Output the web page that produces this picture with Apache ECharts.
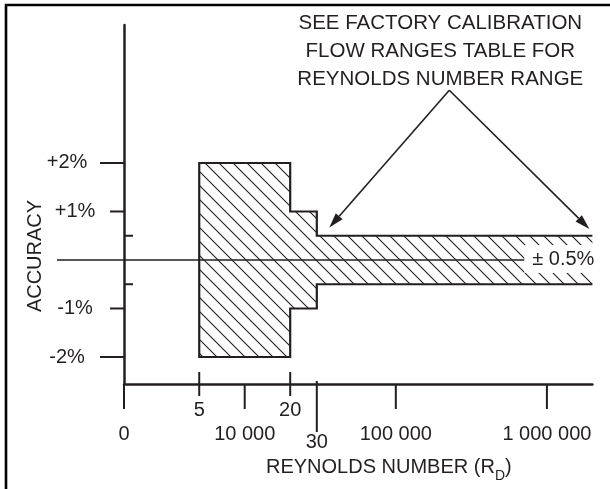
<!DOCTYPE html>
<html><head><meta charset="utf-8">
<script src="https://cdn.jsdelivr.net/npm/echarts/dist/echarts.min.js"></script>
<style>html,body{margin:0;padding:0;background:#fff}#chart{width:610px;height:489px}</style>
</head><body><div id="chart"></div>
<script>
// ---------------- data ----------------
// accuracy envelope: each segment spans [start, end] Reynolds number with ± accuracy (%)
const segmentStartRe = [5000, 20000, 30000];
const segmentEndRe   = [20000, 30000, 2000000];
const segmentAccuracy = [2, 1, 0.5];

// Reynolds-number axis ticks (0 = axis origin)
const xTickRe     = [0, 5000, 10000, 20000, 30000, 100000, 1000000];
const xTickLabels = ['0', '5', '10 000', '20', '30', '100 000', '1 000 000'];
const xTickKind   = ['major', 'minor', 'major', 'minor', 'mid', 'major', 'major'];

// accuracy axis ticks (%)
const yTickValues = [2, 1, 0.5, -0.5, -1, -2];
const yTickLabels = ['+2%', '+1%', '', '', '-1%', '-2%'];
const yTickKind   = ['long', 'mid', 'inner', 'inner', 'mid', 'long'];

const bandLabel = '± 0.5%';
const noteLines = ['SEE FACTORY CALIBRATION', 'FLOW RANGES TABLE FOR', 'REYNOLDS NUMBER RANGE'];

// ---------------- styling / layout ----------------
const INK = '#231f20';
const FONT = '"Liberation Sans", Arial, Helvetica, sans-serif';
const X_MIN = 1589, X_MAX = 2000000;   // log-axis extent; X_MIN is the drawn origin "0"
const Y_MIN = -2.557, Y_MAX = 4.845;

const hatch = (function () {
  const s = 14, c = document.createElement('canvas');
  c.width = s; c.height = s;
  const g = c.getContext('2d');
  g.strokeStyle = INK; g.lineWidth = 1.1;
  g.beginPath();
  g.moveTo(-2, -2); g.lineTo(s + 2, s + 2);
  g.moveTo(-2, s - 2); g.lineTo(2, s + 2);
  g.moveTo(s - 2, -2); g.lineTo(s + 2, 2);
  g.stroke();
  return { image: c, repeat: 'repeat' };
})();

function reToAxis(re) { return re <= 0 ? X_MIN : re; }
function txt(x, y, text, extra) {
  return { type: 'text', x: x, y: y, silent: true,
    style: Object.assign({ text: text, fill: INK, fontSize: 20, fontFamily: FONT,
      align: 'center', verticalAlign: 'middle' }, extra || {}) };
}

function renderEnvelope(params, api) {
  const n = segmentAccuracy.length;
  const pts = [];
  for (let i = n - 1; i >= 0; i--) {
    pts.push(api.coord([segmentEndRe[i], segmentAccuracy[i]]));
    pts.push(api.coord([segmentStartRe[i], segmentAccuracy[i]]));
  }
  for (let i = 0; i < n; i++) {
    pts.push(api.coord([segmentStartRe[i], -segmentAccuracy[i]]));
    pts.push(api.coord([segmentEndRe[i], -segmentAccuracy[i]]));
  }
  const o = api.coord([X_MIN, 0]);
  const e = api.coord([segmentEndRe[n - 1], 0]);
  return { type: 'group', children: [
    { type: 'polygon', shape: { points: pts }, style: { fill: hatch, stroke: 'none' } },
    { type: 'polyline', shape: { points: pts }, style: { fill: 'none', stroke: INK, lineWidth: 2.2 } },
    { type: 'line', shape: { x1: o[0] - 67, y1: o[1], x2: e[0], y2: e[1] }, style: { stroke: INK, lineWidth: 1.3 } },
    txt(e[0] + 4, e[1] - 1, bandLabel, { align: 'right', backgroundColor: '#fff', padding: [4, 2, 4, 8] })
  ] };
}

function renderXTicks(params, api) {
  const children = [];
  for (let i = 0; i < xTickRe.length; i++) {
    const p = api.coord([reToAxis(xTickRe[i]), Y_MIN]);
    let y1, y2, ly;
    if (xTickKind[i] === 'major') { y1 = p[1]; y2 = p[1] + 25; ly = p[1] + 50; }
    else if (xTickKind[i] === 'minor') { y1 = p[1] - 12; y2 = p[1] + 12; ly = p[1] + 26; }
    else { y1 = p[1] - 3; y2 = p[1] + 48; ly = p[1] + 58; }
    children.push({ type: 'line', shape: { x1: p[0], y1: y1, x2: p[0], y2: y2 }, style: { stroke: INK, lineWidth: 2 } });
    children.push(txt(p[0], ly, xTickLabels[i]));
  }
  const mid = api.coord([100000, Y_MIN]);
  children.push(txt(mid[0] - 7, mid[1] + 83, 'REYNOLDS NUMBER (R{sub|D})', {
    rich: { sub: { fontSize: 14, fontFamily: FONT, fill: INK, padding: [18, 0, 0, 0] } } }));
  return { type: 'group', children: children };
}

function renderYTicks(params, api) {
  const children = [];
  for (let i = 0; i < yTickValues.length; i++) {
    const p = api.coord([X_MIN, yTickValues[i]]);
    let x1, x2, lx;
    if (yTickKind[i] === 'long') { x1 = p[0] - 24; x2 = p[0]; lx = p[0] - 57; }
    else if (yTickKind[i] === 'mid') { x1 = p[0] - 14; x2 = p[0]; lx = p[0] - 49; }
    else { x1 = p[0]; x2 = p[0] + 9; lx = null; }
    children.push({ type: 'line', shape: { x1: x1, y1: p[1], x2: x2, y2: p[1] }, style: { stroke: INK, lineWidth: 2 } });
    if (lx !== null && yTickLabels[i]) children.push(txt(lx, p[1], yTickLabels[i]));
  }
  const z = api.coord([X_MIN, 0]);
  children.push(Object.assign(txt(z[0] - 89, z[1] - 4, 'ACCURACY'), { rotation: Math.PI / 2 }));
  return { type: 'group', children: children };
}

function arrow(from, to) {
  const dx = to[0] - from[0], dy = to[1] - from[1], L = Math.hypot(dx, dy);
  const ux = dx / L, uy = dy / L, hl = 15, hw = 4.5;
  const bx = to[0] - ux * hl, by = to[1] - uy * hl;
  return [
    { type: 'line', shape: { x1: from[0], y1: from[1], x2: bx, y2: by }, style: { stroke: INK, lineWidth: 1.6 } },
    { type: 'polygon', shape: { points: [to, [bx - uy * hw, by + ux * hw], [bx + uy * hw, by - ux * hw]] }, style: { fill: INK } }
  ];
}

function renderNote(params, api) {
  const apex = api.coord([226000, 3.5]);
  const t1 = api.coord([36300, 0.67]);
  const t2 = api.coord([1910000, 0.64]);
  const children = [].concat(arrow(apex, t1), arrow(apex, t2));
  for (let k = 0; k < noteLines.length; k++) {
    children.push(txt(apex[0] - 9, apex[1] - 11 - 28 * (noteLines.length - 1 - k), noteLines[k], { fontSize: 20.5 }));
  }
  return { type: 'group', children: children };
}

const chart = echarts.init(document.getElementById('chart'), null, { renderer: 'canvas' });
chart.setOption({
  animation: false,
  backgroundColor: '#fff',
  grid: { left: 124, right: 17.6, top: 25, bottom: 105 },
  xAxis: { type: 'log', logBase: 10, min: X_MIN, max: X_MAX,
    axisLine: { show: true, onZero: false, lineStyle: { color: INK, width: 2.5 } },
    axisTick: { show: false }, axisLabel: { show: false }, splitLine: { show: false }, minorTick: { show: false } },
  yAxis: { type: 'value', min: Y_MIN, max: Y_MAX,
    axisLine: { show: true, onZero: false, lineStyle: { color: INK, width: 2.5 } },
    axisTick: { show: false }, axisLabel: { show: false }, splitLine: { show: false } },
  graphic: [
    { type: 'polyline', shape: { points: [[6, 489], [6, 5], [610, 5]] }, style: { stroke: '#000', lineWidth: 2.6, fill: 'none' }, silent: true }
  ],
  series: [
    { type: 'custom', name: 'envelope', renderItem: renderEnvelope, data: [[segmentStartRe[0], 0]], silent: true, z: 2 },
    { type: 'custom', name: 'xTicks', renderItem: renderXTicks, data: [[segmentStartRe[0], 0]], silent: true, z: 3 },
    { type: 'custom', name: 'yTicks', renderItem: renderYTicks, data: [[segmentStartRe[0], 0]], silent: true, z: 3 },
    { type: 'custom', name: 'note', renderItem: renderNote, data: [[segmentStartRe[0], 0]], silent: true, z: 4 }
  ]
});
</script></body></html>
